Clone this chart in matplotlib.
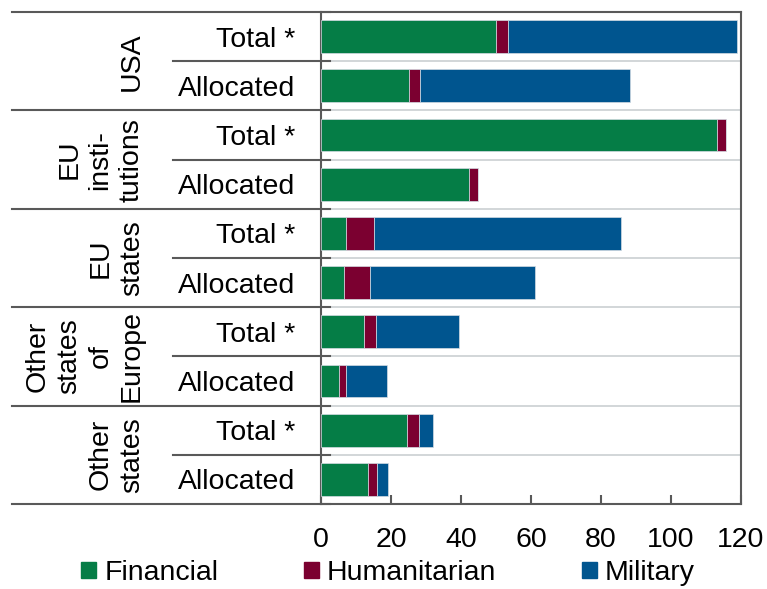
import numpy as np
import matplotlib.pyplot as plt
from matplotlib.patches import Patch
from matplotlib.transforms import blended_transform_factory

plt.rcParams['font.family'] = ['Liberation Sans', 'DejaVu Sans']

groups = ['USA', 'EU\ninsti-\ntutions', 'EU\nstates', 'Other\nstates\nof\nEurope', 'Other\nstates']
subgroups = ['Total *', 'Allocated']

# one value per row, top to bottom (Total *, Allocated for each group)
financial = [50.0, 25.0, 113.1, 42.2, 7.0, 6.5, 12.2, 5.0, 24.6, 13.5]
humanitarian = [3.5, 3.4, 2.6, 2.6, 8.2, 7.6, 3.6, 2.0, 3.3, 2.4]
military = [65.4, 59.9, 0.0, 0.0, 70.4, 47.0, 23.5, 11.9, 4.2, 3.1]

series = ['Financial', 'Humanitarian', 'Military']
colors = ['#057d46', '#7b0030', '#00558f']

W, H = 767, 589
fs = 20.5
dark = '#595959'

fig = plt.figure(figsize=(W / 100, H / 100), dpi=100)
ax = fig.add_axes([321 / W, 1 - 504 / H, (741 - 321) / W, (504 - 12) / H])

n = len(financial)
y = np.arange(n)
left = np.zeros(n)
for vals, col, name in zip([financial, humanitarian, military], colors, series):
    ax.barh(y, vals, left=left, height=0.665, color=col, edgecolor='#d5dce3',
            linewidth=0.5, label=name, zorder=3)
    left = left + np.array(vals)

ax.set_xlim(0, 120)
ax.set_ylim(n - 0.5, -0.5)
ax.set_xticks(np.arange(0, 121, 20))
ax.tick_params(axis='x', direction='in', length=6.5, width=1.5, color=dark,
               labelsize=fs, pad=16.5)
ax.set_yticks(y)
ax.set_yticklabels(subgroups * len(groups))
ax.tick_params(axis='y', length=0, labelsize=fs, pad=18.7)

for s in ax.spines.values():
    s.set_color(dark)
    s.set_linewidth(1.5)

# light separators inside the plot
for b in np.arange(0.5, n - 0.5, 1.0):
    ax.axhline(b, color='#cfd3d6', lw=1.3, zorder=1)

# category separators left of the plot
tr = blended_transform_factory(fig.transFigure, ax.transData)
for b in np.arange(-0.5, n + 0.5, 2.0):
    ax.plot([12 / W, 330 / W], [b, b], transform=tr, color=dark, lw=1.5,
            clip_on=False, zorder=5)
for b in np.arange(0.5, n, 2.0):
    ax.plot([173 / W, 330 / W], [b, b], transform=tr, color=dark, lw=1.5,
            clip_on=False, zorder=5)

for i, g in enumerate(groups):
    ax.text(145 / W, 2 * i + 0.5, g, transform=tr, rotation=90, ha='right',
            va='center', multialignment='center', fontsize=fs, linespacing=1.27)

handles = [Patch(color=c, label=s) for c, s in zip(colors, series)]
fig.legend(handles=handles, loc='center', bbox_to_anchor=(388 / W, 1 - 573 / H),
           ncol=3, frameon=False, fontsize=fs, handlelength=0.53,
           handleheight=0.53, handletextpad=0.28, columnspacing=3.0,
           borderpad=0)

fig.savefig('out.png', dpi=100)
